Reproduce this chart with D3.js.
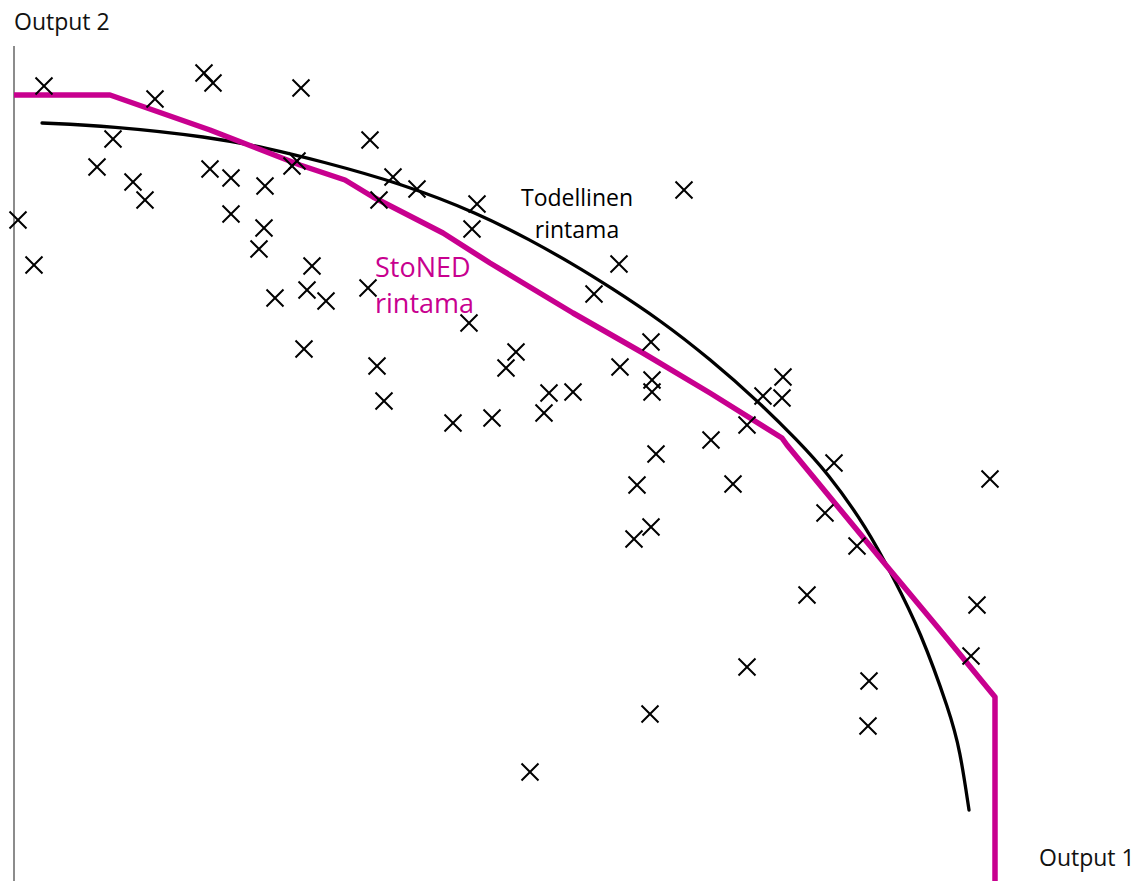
<!DOCTYPE html>
<html>
<head>
<meta charset="utf-8">
<script src="https://cdn.jsdelivr.net/npm/d3@7"></script>
<style>
  html, body { margin: 0; padding: 0; background: #fff; }
  svg { display: block; }
  text { font-family: "Open Sans", "Noto Sans", sans-serif; }
</style>
</head>
<body>
<svg id="chart" width="1148" height="881"></svg>
<script>
// Observed firms: Output 1 (x) and Output 2 (y)
const obsX = [3.0, 0.4, 2.0, 8.3, 9.9, 11.9, 13.1, 14.1, 19.0, 19.9, 19.6, 21.7, 21.7, 25.1, 25.0,
  24.5, 26.1, 28.7, 27.8, 28.3, 29.8, 29.3, 31.2, 29.0, 35.6, 37.9, 36.5, 40.3, 35.4, 36.3,
  37.0, 46.3, 45.8, 45.5, 50.2, 49.2, 53.5, 55.9, 53.0, 47.8, 43.9, 67.0, 60.5, 58.0, 63.7,
  60.6, 63.8, 63.8, 64.2, 62.3, 62.0, 63.7, 69.7, 71.9, 73.3, 74.9, 76.9, 76.8, 82.0, 81.1,
  84.3, 79.3, 97.6, 96.3, 95.7, 85.5, 85.4, 73.3, 63.6, 51.6];
const obsY = [79.5, 66.1, 61.6, 71.4, 74.2, 69.9, 68.1, 78.2, 80.8, 79.8, 71.2, 70.3, 66.7, 69.5, 65.3,
  63.2, 58.3, 79.3, 71.5, 72.0, 61.5, 59.1, 58.0, 53.2, 74.1, 70.4, 68.1, 69.2, 59.3, 51.5,
  48.0, 67.7, 65.2, 55.8, 52.9, 51.3, 48.8, 48.9, 46.8, 46.3, 45.8, 69.1, 61.7, 58.7, 53.9,
  51.4, 50.1, 48.9, 42.7, 39.6, 34.2, 35.4, 44.1, 39.7, 45.6, 48.5, 50.4, 48.3, 41.8, 36.8,
  33.5, 28.6, 40.2, 27.6, 22.5, 20.0, 15.5, 21.4, 16.7, 10.9];

// True production frontier
const trueX = [2.8, 9.6, 19.6, 25.3, 30.6, 38.6, 46.6, 51.6, 55.9, 59.6, 64.6, 69.6, 74.6, 78.3, 81.3,
  85.3, 87.9, 90.6, 93.6, 94.6, 95.5];
const trueY = [75.8, 75.5, 74.4, 73.3, 72.0, 69.8, 66.7, 64.1, 61.7, 59.4, 56.1, 52.2, 47.8, 44.1, 40.9,
  35.3, 30.4, 25.1, 16.8, 13.1, 7.1];

// Piecewise linear StoNED frontier
const stonedX = [0, 9.6, 19.6, 28.6, 33.1, 35.9, 42.9, 47.6, 55.9, 62.9, 69.6, 76.8, 77.3, 87.6, 92.6, 98.1, 98.1];
const stonedY = [78.6, 78.6, 75.1, 71.6, 70.1, 68.4, 64.8, 61.8, 56.8, 52.8, 48.8, 44.3, 43.6, 31.1, 25.1, 18.4, 0];

const axisLabelX = "Output 1";
const axisLabelY = "Output 2";
const trueLabel = ["Todellinen", "rintama"];
const stonedLabel = ["StoNED", "rintama"];

const magenta = "#c8008f";

const svg = d3.select("#chart");
const x = d3.scaleLinear().domain([0, 100]).range([14, 1014]);
const y = d3.scaleLinear().domain([0, 80]).range([881, 81]);

// Vertical axis only
svg.append("line")
  .attr("x1", x(0)).attr("x2", x(0))
  .attr("y1", 46).attr("y2", 881)
  .attr("stroke", "#8c8c8c").attr("stroke-width", 2);

svg.append("text").attr("x", 14).attr("y", 30)
  .attr("font-size", 23).attr("fill", "#111").text(axisLabelY);
svg.append("text").attr("x", 1039).attr("y", 866)
  .attr("font-size", 23).attr("fill", "#111").text(axisLabelX);

// True frontier
const trueLine = d3.line().x(d => x(d[0])).y(d => y(d[1])).curve(d3.curveBasis);
svg.append("path")
  .datum(d3.zip(trueX, trueY))
  .attr("d", trueLine)
  .attr("fill", "none").attr("stroke", "#000").attr("stroke-width", 3.3)
  .attr("stroke-linecap", "round");

// StoNED frontier
const stonedLine = d3.line().x(d => x(d[0])).y(d => y(d[1]));
svg.append("path")
  .datum(d3.zip(stonedX, stonedY))
  .attr("d", stonedLine)
  .attr("fill", "none").attr("stroke", magenta).attr("stroke-width", 5.5)
  .attr("stroke-linejoin", "round");

// Observations as crosses
const cross = d3.symbol().type(d3.symbolTimes).size(190);
svg.append("g").selectAll("path")
  .data(d3.zip(obsX, obsY))
  .join("path")
  .attr("transform", d => `translate(${x(d[0])},${y(d[1])})`)
  .attr("d", cross)
  .attr("fill", "none").attr("stroke", "#000").attr("stroke-width", 2);

// Frontier labels
svg.append("g").selectAll("text")
  .data(trueLabel)
  .join("text")
  .attr("x", 577).attr("y", (d, i) => 206 + i * 32)
  .attr("text-anchor", "middle")
  .attr("font-size", 23).attr("fill", "#000")
  .text(d => d);

svg.append("g").selectAll("text")
  .data(stonedLabel)
  .join("text")
  .attr("x", 375).attr("y", (d, i) => 277 + i * 36)
  .attr("font-size", 27).attr("fill", magenta)
  .text(d => d);
</script>
</body>
</html>
